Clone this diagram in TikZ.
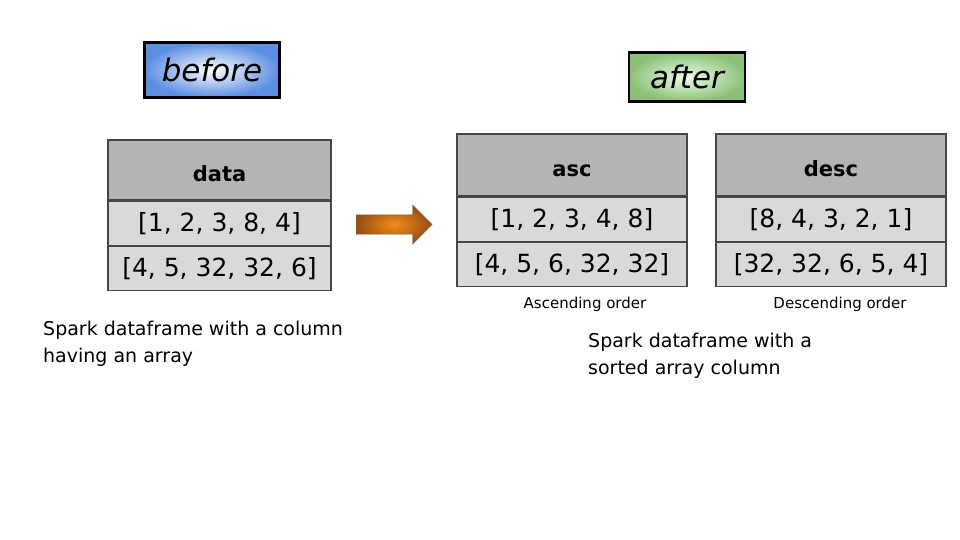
\documentclass[tikz,border=0pt]{standalone}
\usepackage{fontspec}
\setmainfont{DejaVu Sans}
\usetikzlibrary{shapes.arrows,positioning}
\definecolor{hdgray}{RGB}{180,180,180}
\definecolor{rowgray}{RGB}{217,217,217}
\definecolor{edgegray}{RGB}{70,70,70}
\definecolor{beforeblue}{RGB}{92,142,226}
\definecolor{aftergreen}{RGB}{140,192,118}
\definecolor{arroworange}{RGB}{242,138,28}
\definecolor{arrowbrown}{RGB}{150,80,16}

\tikzset{
  tag/.style={draw=black, line width=2.5pt, inner sep=0pt, shading=radial,
    font=\itshape\fontsize{31}{31}\selectfont},
  header/.style={draw=edgegray, line width=1.2pt, fill=hdgray, inner sep=0pt,
    text height=24pt, text depth=0pt,
    minimum height=60pt, font=\bfseries\fontsize{21}{21}\selectfont},
  cell/.style={draw=edgegray, line width=1.2pt, fill=rowgray, inner sep=0pt,
    minimum height=44pt, font=\fontsize{25}{25}\selectfont},
  note/.style={align=left, anchor=north west, inner sep=0pt,
    font=\fontsize{19}{27}\selectfont},
  caption/.style={inner sep=0pt, font=\fontsize{15}{15}\selectfont}
}

\begin{document}
\begin{tikzpicture}[x=1pt,y=-1pt]
  \useasboundingbox[fill=white] (0,0) rectangle (960,540);
  % Labels
  \node[tag, inner color=white, outer color=beforeblue, minimum width=135pt,
    minimum height=55pt] (before) at (212,70) {before};
  \node[tag, inner color=green!8!white, outer color=aftergreen, minimum width=116pt,
    minimum height=49pt] (after) at (687,77) {after};
  % Input table
  \node[header, minimum width=223pt] (data) at (219.5,170) {data};
  \node[cell, minimum width=223pt, below=0pt of data] (data1) {[1, 2, 3, 8, 4]};
  \node[cell, minimum width=223pt, below=0pt of data1] (data2) {[4, 5, 32, 32, 6]};
  % Arrow
  \node[single arrow, draw=gray!80!black, thin, shading=radial, anchor=west,
    inner color=arroworange, outer color=arrowbrown, inner xsep=0pt, inner ysep=9.5pt,
    single arrow head extend=10pt, minimum height=76pt] (sortarrow) at (356,224.5) {};
  % Sorted tables
  \node[header, minimum width=230pt, minimum height=62pt] (asc) at (572,165) {asc};
  \node[cell, minimum width=230pt, below=0pt of asc] (asc1) {[1, 2, 3, 4, 8]};
  \node[cell, minimum width=230pt, below=0pt of asc1] (asc2) {[4, 5, 6, 32, 32]};
  \node[header, minimum width=230pt, minimum height=62pt] (desc) at (831,165) {desc};
  \node[cell, minimum width=230pt, below=0pt of desc] (desc1) {[8, 4, 3, 2, 1]};
  \node[cell, minimum width=230pt, below=0pt of desc1] (desc2) {[32, 32, 6, 5, 4]};
  % Captions
  \node[caption] (asclabel) at (585,304) {Ascending order};
  \node[caption] (desclabel) at (840,304) {Descending order};
  \node[note] (beforenote) at (43,321) {Spark dataframe with a column\\having an array};
  \node[note] (afternote) at (588,333) {Spark dataframe with a\\sorted array column};
\end{tikzpicture}
\end{document}
